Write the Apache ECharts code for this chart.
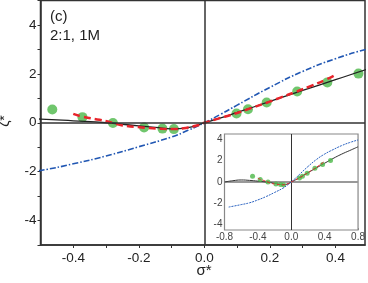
<!DOCTYPE html>
<html><head><meta charset="utf-8">
<script src="https://cdn.jsdelivr.net/npm/echarts@6/dist/echarts.min.js"></script>
<style>html,body{margin:0;padding:0;background:#fff}#c{width:368px;height:283px}</style>
</head><body><div id="c"></div>
<script>
// Experimental points (green)
const dotsX = [-0.464, -0.372, -0.279, -0.184, -0.128, -0.093, 0.098, 0.133, 0.19, 0.283, 0.375, 0.47];
const dotsY = [0.54, 0.23, -0.01, -0.19, -0.24, -0.26, 0.38, 0.55, 0.83, 1.28, 1.65, 2.01];
// Red dashed curve
const redX = [-0.40, -0.37, -0.32, -0.28, -0.25, -0.19, -0.13, -0.09, -0.05, -0.02, 0, 0.04, 0.1, 0.13, 0.19, 0.23, 0.28, 0.32, 0.37, 0.40];
const redY = [0.36, 0.24, 0.12, 0.0, -0.11, -0.19, -0.25, -0.26, -0.19, -0.1, 0, 0.16, 0.4, 0.54, 0.82, 1.02, 1.27, 1.48, 1.76, 1.96];
// Black solid curve
const blackX = [-0.8, -0.7, -0.6, -0.5, -0.4, -0.3, -0.2, -0.15, -0.1, -0.05, 0, 0.05, 0.1, 0.2, 0.3, 0.4, 0.5, 0.6, 0.7, 0.8];
const blackY = [0, 0.12, 0.19, 0.15, 0.08, 0.0, -0.13, -0.19, -0.25, -0.2, 0, 0.2, 0.42, 0.87, 1.32, 1.76, 2.2, 2.6, 2.95, 3.3];
// Blue dash-dot curve
const blueX = [-0.75, -0.6, -0.5, -0.4, -0.3, -0.2, -0.1, -0.05, 0, 0.05, 0.1, 0.2, 0.3, 0.4, 0.5, 0.6, 0.7, 0.8];
const blueY = [-2.35, -2.12, -1.95, -1.68, -1.36, -0.98, -0.58, -0.31, 0, 0.35, 0.72, 1.45, 2.1, 2.62, 3.03, 3.4, 3.7, 3.94];
// Tick labels
const mainYLabels = [-4, -2, 0, 2, 4];
const mainXLabels = [-0.4, -0.2, 0.0, 0.2, 0.4];
const insetYLabels = [-4, -2, 0, 2, 4];
const caption1 = '(c)';
const caption2 = '2:1, 1M';

const zip = (xs, ys) => xs.map((x, i) => [x, ys[i]]);
const FONT = 'Liberation Sans, Arial, sans-serif';

const chart = echarts.init(document.getElementById('c'), null, {renderer: 'canvas'});
const isLabel = (arr, v) => arr.some(a => Math.abs(a - v) < 1e-6);

const zeroMain = {
  silent: true, symbol: ['none', 'none'], label: {show: false}, animation: false,
  lineStyle: {color: '#333', width: 1.5, type: 'solid'},
  data: [{xAxis: 0}, {yAxis: 0}]
};
const zeroInset = {
  silent: true, symbol: ['none', 'none'], label: {show: false}, animation: false,
  data: [
    {xAxis: 0, lineStyle: {color: '#333', width: 1, type: 'solid'}},
    {yAxis: 0, lineStyle: {color: '#999', width: 2, type: 'solid'}}
  ]
};
const sm = {smooth: 0.5, showSymbol: false};

chart.setOption({
  animation: false,
  grid: [
    {left: 40.5, top: 0.5, right: 3, bottom: 38, show: true, borderColor: '#333', borderWidth: 1.5},
    {left: 224.5, top: 134, width: 135, height: 96, show: true, borderColor: '#888', borderWidth: 1.2, backgroundColor: '#fff', z: 5}
  ],
  xAxis: [
    {type: 'value', gridIndex: 0, min: -0.5, max: 0.49, interval: 0.1,
     axisLine: {show: true, onZero: false, lineStyle: {color: '#333', width: 1.5}},
     axisTick: {show: true, inside: false, length: 3, lineStyle: {color: '#333'}},
     splitLine: {show: false},
     axisLabel: {margin: 6, fontSize: 13.5, color: '#222', fontFamily: FONT,
       showMinLabel: false, showMaxLabel: false,
       formatter: v => isLabel(mainXLabels, v) ? (Math.round(v * 10) / 10).toFixed(1) : ''}},
    {type: 'value', gridIndex: 1, min: -0.8, max: 0.8, interval: 0.4,
     axisLine: {show: false, onZero: false},
     axisTick: {show: true, inside: true, length: 2, lineStyle: {color: '#888'}},
     splitLine: {show: false},
     axisLabel: {margin: 2, fontSize: 10, color: '#444', fontFamily: FONT,
       formatter: v => (Math.round(v * 10) / 10).toFixed(1)}}
  ],
  yAxis: [
    {type: 'value', gridIndex: 0, min: -5, max: 5, interval: 1,
     axisLine: {show: true, onZero: false, lineStyle: {color: '#333', width: 1.5}},
     axisTick: {show: true, inside: false, length: 3, lineStyle: {color: '#333'}},
     splitLine: {show: false},
     axisLabel: {margin: 4, fontSize: 13.5, color: '#222', fontFamily: FONT,
       formatter: v => isLabel(mainYLabels, v) ? String(Math.round(v)) : ''}},
    {type: 'value', gridIndex: 1, min: -4.5, max: 4.5, interval: 0.5,
     axisLine: {show: false, onZero: false},
     axisTick: {show: false},
     splitLine: {show: false},
     axisLabel: {margin: 2, fontSize: 10, color: '#444', fontFamily: FONT,
       formatter: v => isLabel(insetYLabels, v) ? String(Math.round(v)) : ''}}
  ],
  series: [
    // main
    {type: 'scatter', xAxisIndex: 0, yAxisIndex: 0, data: zip(dotsX, dotsY), symbolSize: 10,
     itemStyle: {color: '#4cb848'}, z: 2},
    Object.assign({type: 'line', xAxisIndex: 0, yAxisIndex: 0, data: zip(blueX, blueY),
     lineStyle: {color: '#2157b3', width: 1.6, type: [6, 2, 1.5, 2]}, z: 3}, sm),
    Object.assign({type: 'line', xAxisIndex: 0, yAxisIndex: 0, data: zip(blackX, blackY),
     lineStyle: {color: '#222', width: 1.3}, markLine: zeroMain, z: 3}, sm),
    Object.assign({type: 'line', xAxisIndex: 0, yAxisIndex: 0, data: zip(redX, redY),
     lineStyle: {color: '#e8242b', width: 2.5, type: [7, 4]}, z: 4}, sm),
    // inset
    Object.assign({type: 'line', xAxisIndex: 1, yAxisIndex: 1, data: zip(blackX, blackY),
     lineStyle: {color: '#333', width: 1}, markLine: zeroInset, z: 6}, sm),
    {type: 'scatter', xAxisIndex: 1, yAxisIndex: 1, data: zip(dotsX, dotsY), symbolSize: 5,
     itemStyle: {color: '#4cb848'}, z: 6},
    Object.assign({type: 'line', xAxisIndex: 1, yAxisIndex: 1, data: zip(blueX, blueY),
     lineStyle: {color: '#2a62c0', width: 1, type: [2, 1]}, z: 7}, sm),
    Object.assign({type: 'line', xAxisIndex: 1, yAxisIndex: 1, data: zip(redX, redY),
     lineStyle: {color: '#e8242b', width: 1, type: [3, 2]}, z: 7}, sm)
  ],
  graphic: [
    {type: 'text', left: 50, top: 9, style: {text: caption1, fontSize: 15, fill: '#222', fontFamily: FONT}},
    {type: 'text', left: 50, top: 28, style: {text: caption2, fontSize: 15, fill: '#222', fontFamily: FONT}},
    {type: 'text', x: 5, y: 121, rotation: Math.PI / 2,
     style: {text: 'ζ*', fontSize: 14, fill: '#222', fontFamily: FONT, align: 'center', verticalAlign: 'middle'}},
    {type: 'text', x: 204, y: 271,
     style: {text: 'σ*', fontSize: 15, fill: '#222', fontFamily: FONT, align: 'center', verticalAlign: 'middle'}}
  ]
});
</script>
</body></html>
